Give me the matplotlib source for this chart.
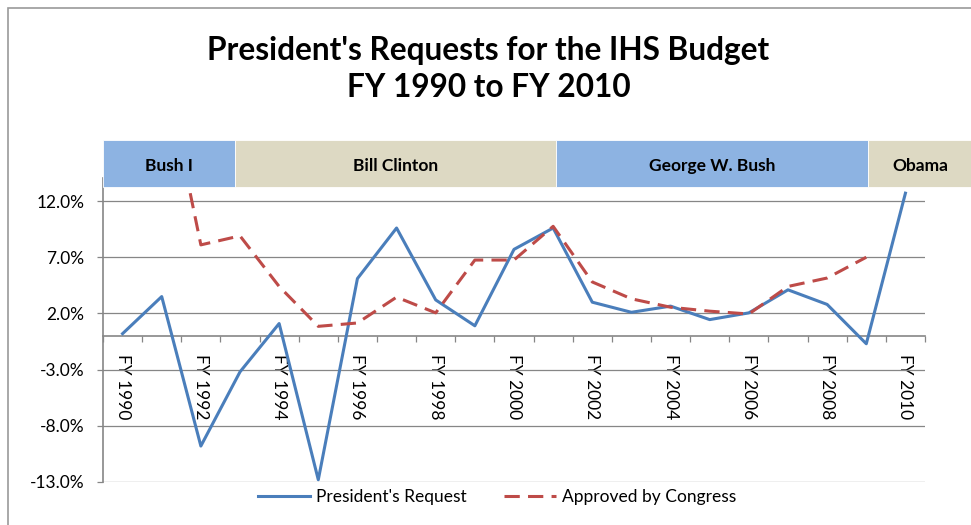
import numpy as np
import matplotlib
matplotlib.use('Agg')
import matplotlib.pyplot as plt
from matplotlib.patches import Rectangle
from matplotlib.ticker import FixedLocator, FuncFormatter
import matplotlib.transforms as mtransforms

plt.rcParams['font.family'] = ['Lato', 'DejaVu Sans']

# data (% change year over year)
years = list(range(1990, 2011))
presidents_request = [0.2, 3.5, -9.8, -3.2, 1.1, -12.8, 5.1, 9.6, 3.2, 0.9, 7.7,
                      9.6, 3.0, 2.1, 2.65, 1.45, 2.05, 4.1, 2.8, -0.7, 12.7]
approved_by_congress = [np.nan, 25.0, 8.1, 8.9, 4.4, 0.85, 1.15, 3.45, 2.05, 6.75, 6.75,
                        9.75, 4.8, 3.3, 2.55, 2.2, 1.95, 4.4, 5.15, 7.0, np.nan]
y_ticks = [-13, -8, -3, 2, 7, 12]
administrations = ['Bush I', 'Bill Clinton', 'George W. Bush', 'Obama']
admin_edges = [-0.5, 2.87, 11.07, 19.04, 21.7]   # in category units
admin_colors = ['#8DB3E2', '#DDD9C3', '#8DB3E2', '#DDD9C3']

fig = plt.figure(figsize=(9.71, 5.25), dpi=100)
ax = fig.add_axes([103 / 971, 1 - 482 / 525, 822 / 971, 304 / 525])

x = np.arange(len(years))
ax.plot(x, presidents_request, color='#4A7EBB', lw=2.2, label="President's Request", zorder=3)
ax.plot(x, approved_by_congress, color='#BE4B48', lw=2.2, dashes=(5, 2.7),
        label='Approved by Congress', zorder=3)

ax.set_xlim(-0.5, len(years) - 0.5)
ax.set_ylim(-13, 14.05)

# y axis
ax.yaxis.set_major_locator(FixedLocator(y_ticks))
ax.yaxis.set_major_formatter(FuncFormatter(lambda v, p: '{:.1f}%'.format(v)))
ax.grid(axis='y', color='#868686', lw=0.9)
ax.tick_params(axis='y', length=4.5, width=0.9, color='#868686', pad=9, labelsize=12.5)

# x axis crossing at zero, ticks between categories, labels every other year
ax.spines['bottom'].set_position(('data', 0))
ax.xaxis.set_major_locator(FixedLocator(np.arange(-0.5, len(years), 1.0)))
ax.xaxis.set_major_formatter(FuncFormatter(lambda v, p: ''))
ax.xaxis.set_minor_locator(FixedLocator(x[::2]))
ax.xaxis.set_minor_formatter(FuncFormatter(lambda v, p: 'FY {}'.format(years[int(round(v))])))
ax.tick_params(axis='x', which='major', length=4, width=0.9, color='#868686', direction='out')
ax.tick_params(axis='x', which='minor', length=0, pad=13, labelsize=12.5, labelrotation=270)
for lab in ax.get_xticklabels(minor=True):
    lab.set_va('top')
    lab.set_ha('center')

for s in ['top', 'right']:
    ax.spines[s].set_visible(False)
for s in ['left', 'bottom']:
    ax.spines[s].set_color('#868686')
    ax.spines[s].set_linewidth(1.2)
ax.set_axisbelow(True)

# administration bands above the plot
trans = mtransforms.blended_transform_factory(ax.transData, ax.transAxes)
for i, name in enumerate(administrations):
    x0, x1 = admin_edges[i], admin_edges[i + 1]
    ax.add_patch(Rectangle((x0, 0.97), x1 - x0, 0.155, transform=trans, facecolor=admin_colors[i],
                           edgecolor='white', lw=0.6, clip_on=False, zorder=5))
    ax.text((x0 + x1) / 2, 1.04, name, transform=trans, ha='center', va='center',
            fontsize=12.5, fontweight='bold', zorder=6, clip_on=False)

fig.text(0.503, 1 - 69 / 525, "President's Requests for the IHS Budget\nFY 1990 to FY 2010",
         ha='center', va='center', fontsize=22.8, fontweight='bold', linespacing=1.3)

# chart frame (cropped at right and bottom in the reference)
fig.add_artist(Rectangle((8 / 971, -0.1), 1.2, 1 - 8 / 525 + 0.1, transform=fig.transFigure,
                         facecolor='none', edgecolor='#9A9A9A', lw=1.2))

fig.legend(loc='center', bbox_to_anchor=(0.512, 1 - 497 / 525), ncol=2, frameon=False,
           fontsize=12.5, handlelength=3.0, columnspacing=2.1, handletextpad=0.35)

fig.savefig('out.png', dpi=100)
